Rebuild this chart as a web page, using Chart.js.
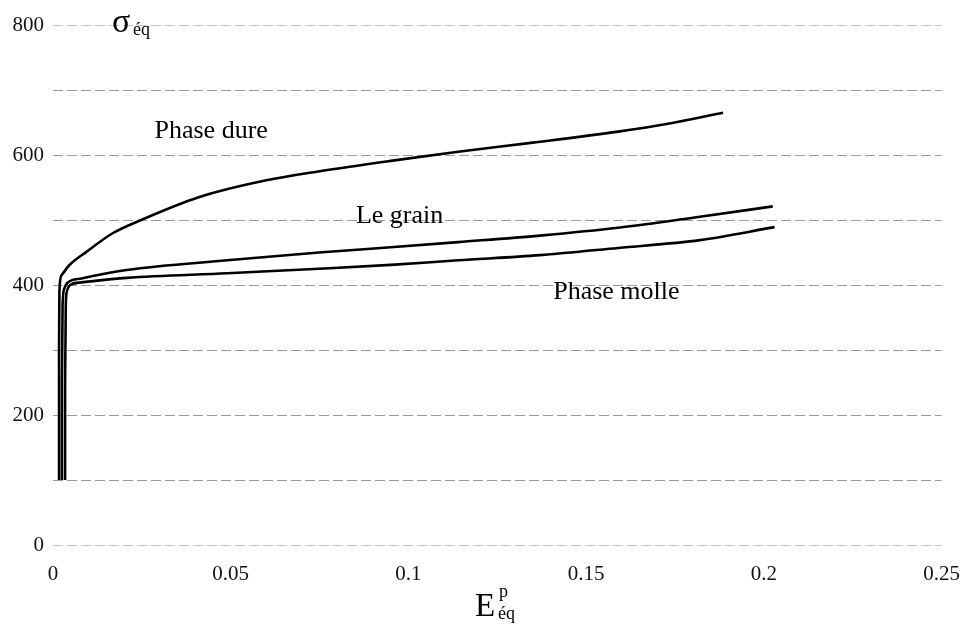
<!DOCTYPE html>
<html>
<head>
<meta charset="utf-8">
<script src="https://cdn.jsdelivr.net/npm/chart.js@4"></script>
<style>
  html, body { margin: 0; padding: 0; background: #fff; }
  #wrap { width: 969px; height: 627px; }
</style>
</head>
<body>
<div id="wrap"><canvas id="chart" width="969" height="627"></canvas></div>
<script>
// curves (strain, equivalent stress)
const phaseDureX = [0.0017, 0.0017, 0.0018, 0.0024, 0.0045, 0.0094, 0.0169, 0.0248, 0.041, 0.060, 0.075, 0.095, 0.114, 0.135, 0.159, 0.173, 0.1885];
const phaseDureY = [100, 300, 390, 415, 430, 451, 480, 500, 535, 561, 575, 591, 605, 619, 636, 648, 665];

const leGrainX = [0.0025, 0.0025, 0.0027, 0.0032, 0.004, 0.008, 0.0207, 0.049, 0.0748, 0.095, 0.114, 0.137, 0.159, 0.182, 0.2025];
const leGrainY = [100, 250, 370, 395, 403, 410, 423, 438, 450, 458, 466, 476, 488, 505, 521];

const phaseMolleX = [0.0034, 0.0034, 0.0036, 0.004, 0.0048, 0.008, 0.0207, 0.049, 0.0748, 0.095, 0.114, 0.137, 0.159, 0.182, 0.203];
const phaseMolleY = [100, 250, 370, 392, 400, 404, 411, 418, 425, 431, 438, 446, 457, 469, 489];

// tick values
const xTicks = [0, 0.05, 0.1, 0.15, 0.2, 0.25];
const yTicks = [0, 200, 400, 600, 800];

// curve labels: text and where they sit (data coords)
const curveLabels = [
    { text: 'Phase dure', x: 0.0445, y: 626 },
    { text: 'Le grain', x: 0.0975, y: 496 },
    { text: 'Phase molle', x: 0.1585, y: 378 }
];

const serif = '"Liberation Serif", "DejaVu Serif", serif';

function toPoints(xs, ys) {
    return xs.map((x, i) => ({ x: x, y: ys[i] }));
}

function curve(label, xs, ys) {
    return {
        label: label,
        data: toPoints(xs, ys),
        showLine: true,
        borderColor: '#000',
        borderWidth: 2.6,
        pointRadius: 0,
        fill: false,
        cubicInterpolationMode: 'monotone'
    };
}

// draws the curve names and the two axis titles (with sub/superscripts)
const textPlugin = {
    id: 'textPlugin',
    afterDraw(chart) {
        const ctx = chart.ctx;
        const xs = chart.scales.x;
        const ys = chart.scales.y;
        ctx.save();
        ctx.fillStyle = '#000';
        ctx.textBaseline = 'alphabetic';

        ctx.font = '26px ' + serif;
        ctx.textAlign = 'center';
        curveLabels.forEach(l => {
            ctx.fillText(l.text, xs.getPixelForValue(l.x), ys.getPixelForValue(l.y));
        });

        // sigma_eq
        ctx.textAlign = 'left';
        ctx.font = '34px ' + serif;
        ctx.fillText('σ', 112, 32);
        ctx.font = '18px ' + serif;
        ctx.fillText('éq', 133, 35);

        // E^p_eq
        ctx.font = '33px ' + serif;
        ctx.fillText('E', 475, 616);
        ctx.font = '18px ' + serif;
        ctx.fillText('p', 499, 597);
        ctx.fillText('éq', 498, 619);

        ctx.restore();
    }
};

const ctx = document.getElementById('chart').getContext('2d');
new Chart(ctx, {
    type: 'scatter',
    data: {
        datasets: [
            curve('Phase dure', phaseDureX, phaseDureY),
            curve('Le grain', leGrainX, leGrainY),
            curve('Phase molle', phaseMolleX, phaseMolleY)
        ]
    },
    options: {
        responsive: false,
        devicePixelRatio: 1,
        animation: false,
        layout: { padding: { top: 25, right: 8, bottom: 0, left: 0 } },
        plugins: {
            legend: { display: false },
            tooltip: { enabled: false }
        },
        scales: {
            x: {
                type: 'linear',
                min: 0,
                max: 0.25,
                afterFit: s => { s.height = 82; },
                afterBuildTicks: s => { s.ticks = xTicks.map(v => ({ value: v })); },
                border: { display: false },
                grid: { display: false },
                ticks: {
                    color: '#111',
                    padding: 9,
                    font: { family: serif, size: 21 },
                    callback: v => String(Number(v.toFixed(2)))
                }
            },
            y: {
                type: 'linear',
                min: 0,
                max: 800,
                afterFit: s => { s.width = 53; },
                border: { display: false, dash: [10, 4] },
                grid: {
                    drawTicks: false,
                    lineWidth: 1,
                    color: c => (c.tick && (c.tick.value === 0 || c.tick.value === 800)) ? '#c4c4c4' : '#9a9a9a'
                },
                ticks: {
                    stepSize: 100,
                    color: '#111',
                    padding: 9,
                    font: { family: serif, size: 21 },
                    callback: v => yTicks.includes(v) ? String(v) : ''
                }
            }
        }
    },
    plugins: [textPlugin]
});
</script>
</body>
</html>
